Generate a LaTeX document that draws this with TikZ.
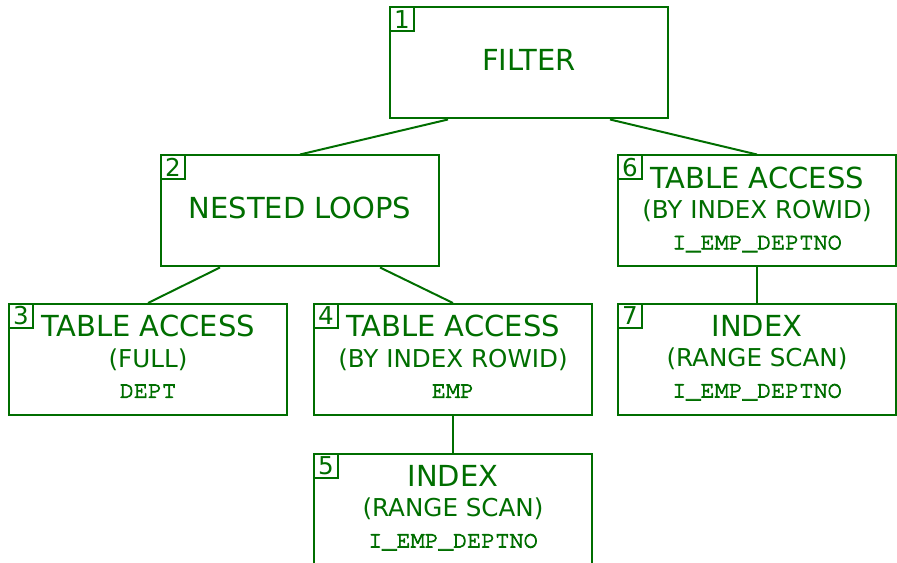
\documentclass[tikz,border=0pt]{standalone}
\usepackage{fontspec}
\setmainfont{DejaVu Sans}
\setmonofont[FakeBold=3]{TeX Gyre Cursor}
\usepackage{tikz}
\usetikzlibrary{positioning}
\definecolor{plangreen}{RGB}{0,110,0}

\newcommand{\opname}{\fontsize{16.5}{17.6}\selectfont}
\newcommand{\opmode}{\fontsize{14}{17.4}\selectfont}
\newcommand{\opobj}{\fontsize{13.4}{17}\selectfont\ttfamily}

\begin{document}
\begin{tikzpicture}[text=plangreen,
  planbox/.style={draw=plangreen, line width=1.13pt, align=center,
    minimum width=5.56cm, minimum height=2.22cm, inner sep=0pt,
    text depth=3.5pt, font=\opmode},
  planno/.style={draw=plangreen, line width=1.13pt, anchor=north west,
    minimum size=0.48cm, inner sep=0pt, font=\fontsize{14}{14}\selectfont},
  planedge/.style={draw=plangreen, line width=1.13pt}]
\useasboundingbox (0,0) rectangle (17.94,11.26);

% top of the plan
\path (10.58,10.0) node (filter) [planbox] {\opname FILTER};
\path (6.0,7.04) node (nested) [planbox] {\opname NESTED LOOPS};
\path (15.14,7.04) node (deptaccess) [planbox]
  {{\opname TABLE ACCESS}\\(BY INDEX ROWID)\\{\opobj I\_EMP\_DEPTNO}};

% leaves
\path (2.96,4.07) node (deptscan) [planbox]
  {{\opname TABLE ACCESS}\\(FULL)\\{\opobj DEPT}};
\path (9.06,4.07) node (empaccess) [planbox]
  {{\opname TABLE ACCESS}\\(BY INDEX ROWID)\\{\opobj EMP}};
\path (15.14,4.07) node (deptindex) [planbox]
  {{\opname INDEX}\\(RANGE SCAN)\\{\opobj I\_EMP\_DEPTNO}};
\path (9.06,1.07) node (empindex) [planbox]
  {{\opname INDEX}\\(RANGE SCAN)\\{\opobj I\_EMP\_DEPTNO}};

% step numbers
\node (no1) [planno] at (filter.north west) {1};
\node (no2) [planno] at (nested.north west) {2};
\node (no3) [planno] at (deptscan.north west) {3};
\node (no4) [planno] at (empaccess.north west) {4};
\node (no5) [planno] at (empindex.north west) {5};
\node (no6) [planno] at (deptaccess.north west) {6};
\node (no7) [planno] at (deptindex.north west) {7};

% tree edges
\draw [planedge] ([xshift=-1.62cm]filter.south) -- (nested.north);
\draw [planedge] ([xshift=1.62cm]filter.south) -- (deptaccess.north);
\draw [planedge] ([xshift=-1.6cm]nested.south) -- (deptscan.north);
\draw [planedge] ([xshift=1.6cm]nested.south) -- (empaccess.north);
\draw [planedge] (empaccess.south) -- (empindex.north);
\draw [planedge] (deptaccess.south) -- (deptindex.north);

\end{tikzpicture}
\end{document}
